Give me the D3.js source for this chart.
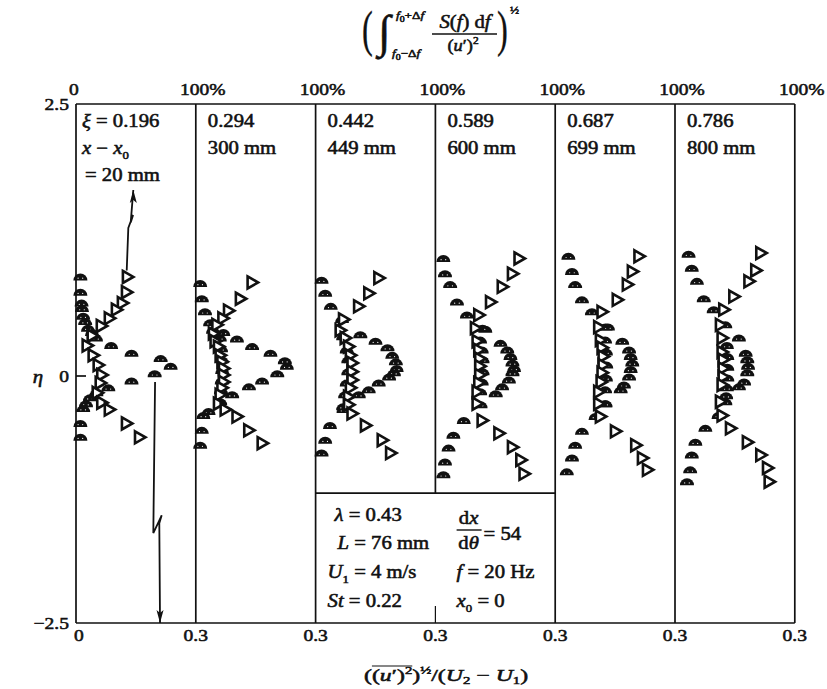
<!DOCTYPE html>
<html>
<head>
<meta charset="utf-8">
<script src="https://cdn.jsdelivr.net/npm/d3@7"></script>
<style>
  html, body { margin: 0; padding: 0; background: #fff; }
  svg { display: block; }
  text { font-family: "Liberation Serif", "Times New Roman", serif; fill: #111; stroke: #111; stroke-width: 0.55; }
</style>
</head>
<body>
<svg id="chart" width="827" height="689"></svg>
<script>
// Streamwise stations: non-dimensional distance and distance from origin (mm)
const stationXi = [0.196, 0.294, 0.442, 0.589, 0.687, 0.786];
const stationDistMm = [20, 300, 449, 600, 699, 800];

// Axis tick labels
const bottomTickLabels = ["0", "0.3", "0.3", "0.3", "0.3", "0.3", "0.3"];
const topTickLabels = ["0", "100%", "100%", "100%", "100%", "100%", "100%"];
const etaTicks = [2.5, 0, -2.5];

// rms intensity profiles (filled half-disc symbols): eta and value per station
const rmsEta = [
  [0.91, 0.77, 0.67, 0.62, 0.55, 0.50, 0.44, 0.40, 0.35, 0.28, 0.21, 0.16, 0.09, 0.02, -0.05, -0.12, -0.17, -0.22, -0.28, -0.33, -0.48, -0.62],
  [0.85, 0.71, 0.59, 0.49, 0.42, 0.40, 0.34, 0.27, 0.21, 0.14, 0.09, 0.02, -0.05, -0.11, -0.19, -0.26, -0.36, -0.40, -0.55, -0.70],
  [0.88, 0.76, 0.64, 0.52, 0.38, 0.32, 0.26, 0.19, 0.13, 0.07, 0.03, -0.01, -0.07, -0.14, -0.19, -0.34, -0.50, -0.65, -0.78],
  [1.08, 0.94, 0.84, 0.68, 0.56, 0.43, 0.30, 0.24, 0.18, 0.12, 0.07, 0.03, -0.04, -0.11, -0.18, -0.29, -0.45, -0.60, -0.73, -0.87, -1.00],
  [1.10, 0.96, 0.84, 0.70, 0.59, 0.45, 0.32, 0.24, 0.18, 0.12, 0.06, -0.01, -0.09, -0.14, -0.28, -0.41, -0.56, -0.70, -0.83, -0.97],
  [1.12, 0.99, 0.87, 0.71, 0.61, 0.47, 0.35, 0.21, 0.15, 0.09, 0.03, -0.06, -0.11, -0.26, -0.40, -0.53, -0.67, -0.80, -0.95, -1.07]
];
const rmsValue = [
  [0.011, 0.011, 0.014, 0.015, 0.018, 0.023, 0.030, 0.040, 0.050, 0.088, 0.139, 0.212, 0.237, 0.197, 0.139, 0.081, 0.051, 0.035, 0.025, 0.018, 0.011, 0.011],
  [0.011, 0.015, 0.023, 0.036, 0.043, 0.069, 0.103, 0.141, 0.187, 0.223, 0.228, 0.204, 0.166, 0.133, 0.091, 0.061, 0.032, 0.019, 0.015, 0.011],
  [0.015, 0.024, 0.038, 0.066, 0.112, 0.150, 0.180, 0.192, 0.201, 0.203, 0.196, 0.184, 0.158, 0.133, 0.108, 0.070, 0.036, 0.024, 0.015],
  [0.020, 0.024, 0.037, 0.054, 0.079, 0.125, 0.163, 0.180, 0.188, 0.193, 0.197, 0.193, 0.184, 0.167, 0.151, 0.113, 0.071, 0.045, 0.033, 0.024, 0.020],
  [0.033, 0.042, 0.050, 0.067, 0.092, 0.126, 0.168, 0.185, 0.189, 0.193, 0.189, 0.185, 0.172, 0.164, 0.126, 0.101, 0.067, 0.050, 0.042, 0.029],
  [0.034, 0.042, 0.055, 0.072, 0.097, 0.126, 0.160, 0.177, 0.181, 0.183, 0.181, 0.173, 0.160, 0.126, 0.109, 0.076, 0.051, 0.042, 0.038, 0.030]
];

// Inner rms points lying along the central column
const rmsCoreEta = [
  [],
  [0.35, 0.25, 0.15, 0.05, -0.05, -0.15],
  [0.36, 0.24, 0.15, 0.04, -0.07, -0.19, -0.31],
  [0.44, 0.33, 0.24, 0.15, 0.04, -0.06, -0.16],
  [0.45, 0.33, 0.22, 0.10, -0.02, -0.14, -0.28],
  [0.28, 0.18, 0.08, -0.02, -0.12, -0.20]
];
const rmsCoreValue = [
  [],
  [0.060, 0.063, 0.065, 0.066, 0.065, 0.063],
  [0.069, 0.078, 0.082, 0.082, 0.078, 0.074, 0.069],
  [0.118, 0.112, 0.116, 0.118, 0.118, 0.116, 0.112],
  [0.132, 0.125, 0.127, 0.128, 0.127, 0.125, 0.125],
  [0.130, 0.131, 0.131, 0.131, 0.130, 0.128]
];

// Fraction of energy in the band f0 ± Δf (open triangles), percent
const fracEta = [
  [0.91, 0.77, 0.67, 0.61, 0.53, 0.46, 0.37, 0.28, 0.19, 0.10, 0.01, -0.07, -0.17, -0.27, -0.34, -0.48, -0.62],
  [0.86, 0.71, 0.60, 0.53, 0.47, 0.39, 0.32, 0.27, 0.19, 0.13, 0.07, 0.01, -0.06, -0.12, -0.19, -0.28, -0.34, -0.41, -0.55, -0.68],
  [0.90, 0.76, 0.64, 0.52, 0.42, 0.35, 0.27, 0.19, 0.12, 0.04, -0.04, -0.12, -0.21, -0.29, -0.38, -0.50, -0.65, -0.78],
  [1.08, 0.94, 0.82, 0.68, 0.56, 0.44, 0.32, 0.24, 0.16, 0.09, 0.01, -0.07, -0.16, -0.28, -0.45, -0.58, -0.72, -0.85, -0.99],
  [1.10, 0.96, 0.84, 0.70, 0.59, 0.45, 0.33, 0.26, 0.18, 0.10, 0.03, -0.06, -0.16, -0.28, -0.41, -0.56, -0.70, -0.83, -0.95],
  [1.13, 0.97, 0.87, 0.73, 0.61, 0.47, 0.35, 0.22, 0.15, 0.07, -0.01, -0.09, -0.26, -0.40, -0.53, -0.67, -0.80, -0.93, -1.07]
];
const fracPercent = [
  [42.9, 42.1, 38.7, 33.7, 27.8, 21.1, 13.5, 9.3, 14.3, 18.5, 21.5, 20.2, 17.7, 21.5, 27.8, 42.1, 53.0],
  [47.0, 37.2, 27.3, 22.6, 17.6, 14.7, 16.1, 18.9, 20.3, 21.8, 23.1, 23.1, 23.1, 21.8, 20.3, 18.9, 24.5, 34.4, 44.2, 55.4],
  [52.8, 44.4, 35.9, 23.3, 20.5, 24.7, 27.5, 29.0, 30.4, 30.4, 30.4, 29.0, 27.5, 27.5, 30.4, 41.6, 55.6, 62.6],
  [69.8, 64.3, 55.8, 46.0, 36.2, 33.4, 34.8, 36.2, 37.0, 37.0, 37.0, 36.2, 34.8, 34.8, 39.0, 53.0, 64.3, 71.3, 74.0],
  [69.9, 64.4, 60.2, 51.8, 39.1, 36.3, 37.7, 39.1, 40.0, 40.0, 39.1, 38.3, 36.3, 36.3, 37.7, 50.3, 67.2, 72.8, 77.0],
  [71.6, 67.4, 61.7, 49.1, 40.7, 37.9, 39.3, 39.3, 40.2, 40.2, 40.2, 39.3, 37.9, 39.3, 46.3, 60.4, 71.6, 77.2, 78.6]
];

// Arrows in the first station ([rms value, eta]), with a break in each
const arrowUp = [[0.127, 0.97], [0.131, 1.36], [0.143, 1.48], [0.137, 1.41], [0.1435, 1.71]];
const arrowDown = [[0.198, -0.06], [0.1936, -1.59], [0.2146, -1.41], [0.2086, -1.49], [0.2104, -2.5]];

// Parameter box
const boxTopEta = -1.185;

// ---------------------------------------------------------------
const svg = d3.select("#chart");
svg.append("rect").attr("width", 827).attr("height", 689).attr("fill", "#fff");

const nPanels = stationXi.length;
const panelEdge = d3.scaleLinear().domain([0, nPanels]).range([76, 794.8]);
const y = d3.scaleLinear().domain([-2.5, 0, 2.5]).range([623, 376, 104]);
const xRms = i => d3.scaleLinear().domain([0, 0.3]).range([panelEdge(i), panelEdge(i + 1)]);
const xPct = i => d3.scaleLinear().domain([0, 100]).range([panelEdge(i), panelEdge(i + 1)]);

// Text with italic / sub / superscript pieces, slightly widened like the print
function richText(parent, x, yy, segs, o = {}) {
  const size = o.size || 18;
  const g = parent.append("g")
    .attr("transform", `translate(${x},${yy}) scale(${o.sx ?? 1.15},1)`);
  const t = g.append("text").attr("font-size", size)
    .attr("text-anchor", o.anchor || "start");
  let shift = 0;
  segs.forEach(s => {
    if (typeof s === "string") s = { t: s };
    const target = s.sub ? size * (o.subShift ?? 0.25) : s.sup ? -size * 0.42 : 0;
    const ts = t.append("tspan").text(s.t);
    if (s.i) ts.attr("font-style", "italic");
    if (s.sub || s.sup) ts.attr("font-size", size * (s.scale || 0.62));
    if (target !== shift) { ts.attr("dy", target - shift); shift = target; }
  });
  return { g, t };
}

// ---- frame ----
const frame = svg.append("g").attr("stroke", "#111").attr("stroke-width", 1.7).attr("fill", "none");
frame.append("line").attr("x1", panelEdge(0)).attr("x2", panelEdge(nPanels)).attr("y1", y(2.5)).attr("y2", y(2.5));
frame.append("line").attr("x1", panelEdge(0)).attr("x2", panelEdge(nPanels)).attr("y1", y(-2.5)).attr("y2", y(-2.5));
d3.range(nPanels + 1).forEach(i => {
  const bottom = i === 3 ? y(boxTopEta) : y(-2.5);
  frame.append("line").attr("x1", panelEdge(i)).attr("x2", panelEdge(i))
    .attr("y1", y(2.5)).attr("y2", bottom);
});
// parameter box top and the stub of the hidden panel edge
frame.append("line").attr("x1", panelEdge(2)).attr("x2", panelEdge(4))
  .attr("y1", y(boxTopEta)).attr("y2", y(boxTopEta));
frame.append("line").attr("x1", panelEdge(3)).attr("x2", panelEdge(3))
  .attr("y1", y(-2.5) - 17).attr("y2", y(-2.5)).attr("stroke-width", 1.2);
// eta = 0 tick
frame.append("line").attr("x1", panelEdge(0)).attr("x2", panelEdge(0) + 10)
  .attr("y1", y(0)).attr("y2", y(0));

// ---- tick labels ----
bottomTickLabels.forEach((lab, i) => {
  richText(svg, panelEdge(i) + (i === 0 ? 3 : 0), y(-2.5) + 18, [lab], { anchor: "middle", size: 17 });
});
topTickLabels.forEach((lab, i) => {
  richText(svg, panelEdge(i) + (i === 0 ? -2 : 7), y(2.5) - 9, [lab], { anchor: "middle", size: 17 });
});
etaTicks.forEach(v => {
  richText(svg, panelEdge(0) - 7, y(v) + 6, [v < 0 ? "\u2212" + Math.abs(v) : String(v)], { anchor: "end", size: 17 });
});
richText(svg, 38, y(0) + 7, [{ t: "\u03b7", i: true }], { anchor: "middle", size: 19, sx: 1.1 });

// ---- station headings ----
stationXi.forEach((xi, i) => {
  const x0 = panelEdge(i);
  if (i === 0) {
    richText(svg, x0 + 6, 127, [{ t: "\u03be", i: true }, " = " + xi.toFixed(3)]);
    richText(svg, x0 + 6, 154, [{ t: "x", i: true }, " \u2212 ", { t: "x", i: true }, { t: "0", sub: true }]);
    richText(svg, x0 + 9, 181, ["= " + stationDistMm[i] + " mm"]);
  } else {
    richText(svg, x0 + 12, 127, [xi.toFixed(3)]);
    richText(svg, x0 + 12, 154, [stationDistMm[i] + " mm"]);
  }
});

// ---- markers ----
const domePath = "M-7,3.5 A7,7 0 0 1 7,3.5 Z";
const triPath = "M-4.5,-6 L6,0 L-4.5,6 Z";

function drawDomes(etaArr, valArr) {
  etaArr.forEach((etas, i) => {
    const xs = xRms(i);
    const g = svg.append("g");
    const pts = etas.map((e, j) => ({ e, v: valArr[i][j] }));
    const m = g.selectAll("g.dome").data(pts).join("g").attr("class", "dome")
      .attr("transform", d => `translate(${xs(d.v)},${y(d.e)})`);
    m.append("path").attr("d", domePath).attr("fill", "#111");
    m.append("circle").attr("cx", -2.3).attr("cy", 1.2).attr("r", 0.6).attr("fill", "#fff");
    m.append("circle").attr("cx", 2.3).attr("cy", 1.2).attr("r", 0.6).attr("fill", "#fff");
  });
}
drawDomes(rmsEta, rmsValue);
drawDomes(rmsCoreEta, rmsCoreValue);

fracEta.forEach((etas, i) => {
  const xs = xPct(i);
  const pts = etas.map((e, j) => ({ e, v: fracPercent[i][j] }));
  svg.append("g").selectAll("path").data(pts).join("path")
    .attr("d", triPath)
    .attr("transform", d => `translate(${xs(d.v)},${y(d.e)})`)
    .attr("fill", "#fff").attr("stroke", "#111").attr("stroke-width", 2.6)
    .attr("stroke-linejoin", "miter");
});

// ---- arrows in the first station ----
function arrow(pts, dirUp) {
  const xs = xRms(0);
  const line = d3.line().x(d => xs(d[0])).y(d => y(d[1]));
  svg.append("path").attr("d", line(pts)).attr("fill", "none")
    .attr("stroke", "#111").attr("stroke-width", 1.8).attr("stroke-linejoin", "miter");
  const tip = pts[pts.length - 1];
  const tx = xs(tip[0]), ty = y(tip[1]);
  const s = dirUp ? 1 : -1;
  svg.append("path")
    .attr("d", `M${tx},${ty} L${tx - 3.5},${ty + s * 13} L${tx},${ty + s * 10} L${tx + 3.5},${ty + s * 13} Z`)
    .attr("fill", "#111");
}
arrow(arrowUp, true);
arrow(arrowDown, false);

// ---- parameter box text ----
const bx = panelEdge(2);
richText(svg, bx + 19, 521, [{ t: "\u03bb", i: true }, " = 0.43"]);
richText(svg, bx + 22, 549, [{ t: "L", i: true }, " =  76 mm"]);
richText(svg, bx + 153, 524, ["d", { t: "x", i: true }], { anchor: "middle" });
svg.append("line").attr("x1", bx + 141).attr("x2", bx + 166).attr("y1", 530).attr("y2", 530)
  .attr("stroke", "#111").attr("stroke-width", 1.4);
richText(svg, bx + 153, 549, ["d", { t: "\u03b8", i: true }], { anchor: "middle" });
richText(svg, bx + 168, 540, ["= 54"]);
richText(svg, bx + 12, 578, [{ t: "U", i: true }, { t: "1", sub: true }, " = 4 m/s"]);
richText(svg, bx + 141, 578, [{ t: "f", i: true }, " = 20 Hz"]);
richText(svg, bx + 12, 607, [{ t: "St", i: true }, " = 0.22"]);
richText(svg, bx + 141, 607, [{ t: "x", i: true }, { t: "0", sub: true }, " = 0"]);

// ---- bottom axis title ----
{
  const { g, t } = richText(svg, 364, 681, [
    "(", "(", { t: "u", i: true }, "\u2032)", { t: "2", sup: true }, ")", { t: "\u00bd", sup: true }, "/(",
    { t: "U", i: true }, { t: "2", sub: true }, " \u2212 ", { t: "U", i: true }, { t: "1", sub: true }, ")"
  ], { size: 17, sx: 1.4, subShift: 0.18 });
  const node = t.node();
  const x1 = node.getStartPositionOfChar(1).x;
  const x2 = node.getEndPositionOfChar(5).x;
  g.append("line").attr("x1", x1).attr("x2", x2).attr("y1", -15).attr("y2", -15)
    .attr("stroke", "#111").attr("stroke-width", 1.2);
}

// ---- top axis title: band-limited spectral fraction ----
{
  const top = svg.append("g");
  top.append("text").attr("transform", "translate(362,46) scale(0.65,1)")
    .attr("font-size", 50).style("stroke-width", 0.3).text("(");
  top.append("text").attr("x", 378).attr("y", 47).attr("font-size", 46)
    .attr("font-style", "italic").style("stroke-width", 0.5).text("\u222b");
  richText(top, 396, 19, [{ t: "f", i: true }, { t: "0", sub: true, scale: 0.75 }, "+\u0394", { t: "f", i: true }], { size: 11, sx: 1.2 });
  richText(top, 392, 57, [{ t: "f", i: true }, { t: "0", sub: true, scale: 0.75 }, "\u2212\u0394", { t: "f", i: true }], { size: 11, sx: 1.2 });
  richText(top, 465, 28, [{ t: "S", i: true }, "(", { t: "f", i: true }, ") d", { t: "f", i: true }], { anchor: "middle", size: 18, sx: 1.15 });
  top.append("line").attr("x1", 432).attr("x2", 497).attr("y1", 34).attr("y2", 34)
    .attr("stroke", "#111").attr("stroke-width", 1.3);
  richText(top, 463, 51, ["(", { t: "u", i: true }, "\u2032)", { t: "2", sup: true }], { anchor: "middle", size: 16, sx: 1.15 });
  top.append("text").attr("transform", "translate(497,46) scale(0.65,1)")
    .attr("font-size", 50).style("stroke-width", 0.3).text(")");
  richText(top, 510, 14, ["\u00bd"], { size: 11, sx: 1.1 });
}
</script>
</body>
</html>
